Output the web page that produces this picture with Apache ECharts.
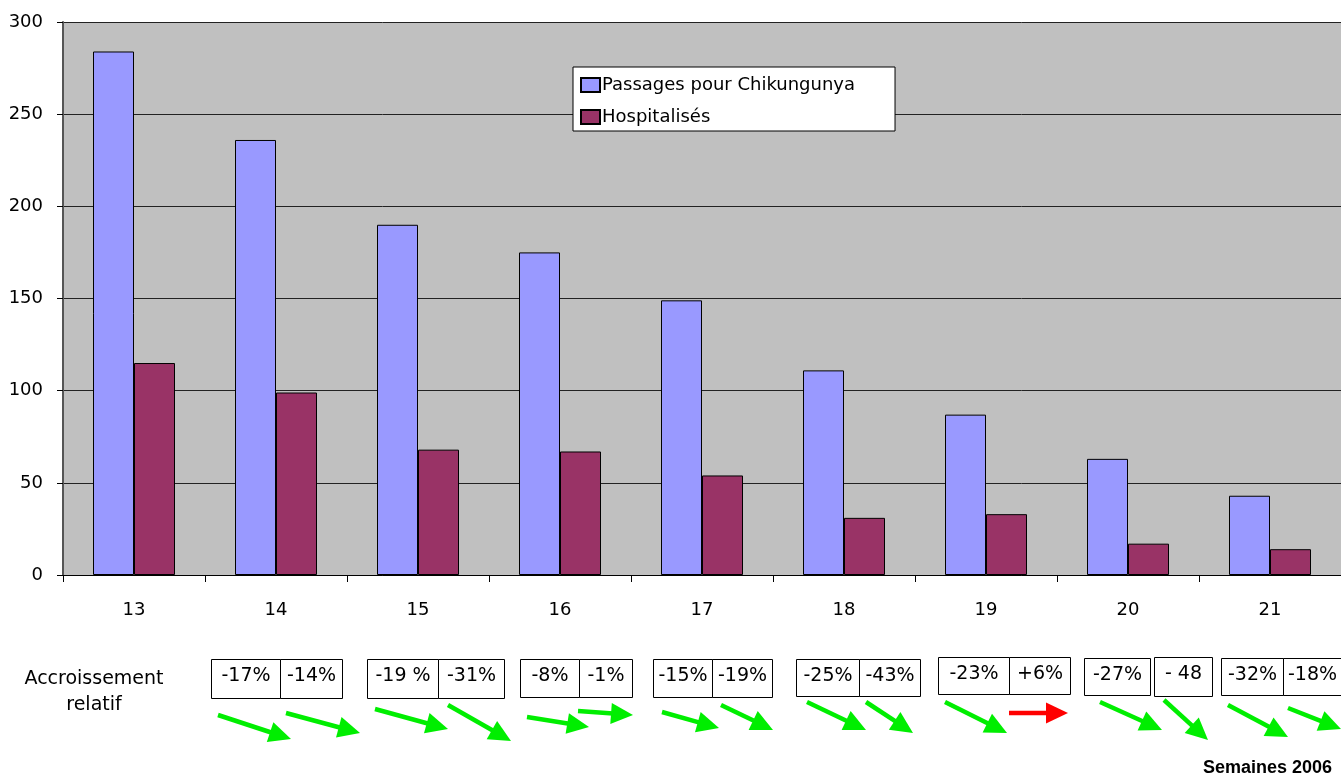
<!DOCTYPE html>
<html>
<head>
<meta charset="utf-8">
<script src="https://cdn.jsdelivr.net/npm/echarts@6/dist/echarts.min.js"></script>
<style>
html,body{margin:0;padding:0;background:#fff;}
#chart{width:1341px;height:776px;}
</style>
</head>
<body>
<div id="chart"></div>
<script>
// ---- data ----
const weeks = ['13', '14', '15', '16', '17', '18', '19', '20', '21'];
const passages = [284, 236, 190, 175, 149, 111, 87, 63, 43];
const hospitalises = [115, 99, 68, 67, 54, 31, 33, 17, 14];
const seriesNames = ['Passages pour Chikungunya', 'Hospitalisés'];
// relative change vs previous week (weeks 14..21)
const changeWeeks = ['14', '15', '16', '17', '18', '19', '20', '21'];
const changePassages = ['-17%', '-19 %', '-8%', '-15%', '-25%', '-23%', '-27%', '-32%'];
const changeHosp = ['-14%', '-31%', '-1%', '-19%', '-43%', '+6%', '- 48', '-18%'];
const yTickStep = 50;

// ---- layout of annotation boxes/arrows (offsets from column centre, px) ----
const boxLayout = [
  [[-65, 4, 659, 698], [4, 66, 659, 698]],
  [[-51, 20, 659, 698], [20, 86, 659, 698]],
  [[-40, 19, 659, 697], [19, 72, 659, 697]],
  [[-49, 10, 659, 697], [10, 70, 659, 697]],
  [[-48, 15, 659, 696], [15, 76, 659, 696]],
  [[-48, 23, 657, 694], [23, 84, 657, 694]],
  [[-44, 22, 658, 695], [26, 84, 657, 696]],
  [[-49, 13, 658, 695], [13, 71, 658, 695]]
];
const arrowLayout = [
  [[-58, 715, 15, 739], [10, 713, 84, 733]],
  [[-43, 709, 30, 729], [30, 705, 93, 741]],
  [[-33, 717, 29, 727], [18, 711, 73, 715]],
  [[-40, 712, 17, 728], [19, 705, 71, 730]],
  [[-37, 702, 22, 730], [22, 702, 69, 733]],
  [[-41, 702, 21, 733], [23, 713, 82, 713]],
  [[-28, 702, 34, 730], [36, 700, 80, 740]],
  [[-42, 705, 18, 737], [18, 708, 71, 729]]
];

const FONT = 'DejaVu Sans';
const chart = echarts.init(document.getElementById('chart'), null, {renderer: 'canvas'});

const option = {
  animation: false,
  backgroundColor: '#ffffff',
  grid: {
    left: 63, top: 22, right: 0, bottom: 201,
    show: true, backgroundColor: '#c0c0c0', borderWidth: 0, containLabel: false
  },
  legend: {
    orient: 'vertical',
    left: 573, top: 67,
    padding: [9, 40, 5, 7],
    itemWidth: 19, itemHeight: 14, itemGap: 14,
    backgroundColor: '#ffffff', borderColor: '#000000', borderWidth: 1,
    icon: 'rect',
    textStyle: {fontFamily: FONT, fontSize: 18, color: '#000', padding: [0, 0, 0, -3]},
    data: seriesNames
  },
  xAxis: {
    type: 'category',
    data: weeks,
    boundaryGap: true,
    axisLine: {show: true, lineStyle: {color: '#000', width: 1}},
    axisTick: {show: true, length: 7, lineStyle: {color: '#000'}},
    axisLabel: {fontFamily: FONT, fontSize: 18, color: '#000', margin: 26},
    splitLine: {show: false}
  },
  yAxis: {
    type: 'value',
    min: 0, max: 300, interval: yTickStep,
    axisLine: {show: true, lineStyle: {color: '#555', width: 2}},
    axisTick: {show: true, length: 6, lineStyle: {color: '#000'}},
    axisLabel: {fontFamily: FONT, fontSize: 18, color: '#000', margin: 20},
    splitLine: {show: true, lineStyle: {color: '#222', width: 1}}
  },
  series: [
    {
      name: seriesNames[0], type: 'bar', data: passages,
      barWidth: 41, barGap: '0%',
      itemStyle: {color: '#9999ff', borderColor: '#000', borderWidth: 1}
    },
    {
      name: seriesNames[1], type: 'bar', data: hospitalises,
      barWidth: 41, barGap: '0%',
      itemStyle: {color: '#993366', borderColor: '#000', borderWidth: 1}
    }
  ]
};
chart.setOption(option);

// ---- annotations ----
function arrow(x1, y1, x2, y2, color) {
  const dx = x2 - x1, dy = y2 - y1;
  const len = Math.sqrt(dx * dx + dy * dy);
  const ux = dx / len, uy = dy / len;
  const px = -uy, py = ux;
  const hl = 22, hw = 10.5;
  const bx = x2 - ux * hl, by = y2 - uy * hl;
  return [
    {type: 'line', silent: true,
     shape: {x1: x1, y1: y1, x2: bx + ux * 2, y2: by + uy * 2},
     style: {stroke: color, lineWidth: 4.5}},
    {type: 'polygon', silent: true,
     shape: {points: [[x2, y2], [bx + px * hw, by + py * hw], [bx - px * hw, by - py * hw]]},
     style: {fill: color}}
  ];
}

const graphics = [];
changeWeeks.forEach(function (wk, i) {
  const c = chart.convertToPixel({xAxisIndex: 0}, wk);
  const labels = [changePassages[i], changeHosp[i]];
  boxLayout[i].forEach(function (b, j) {
    const l = Math.round(c + b[0]) + 0.5, r = Math.round(c + b[1]) + 0.5;
    graphics.push({
      type: 'rect', silent: true,
      shape: {x: l, y: b[2] + 0.5, width: r - l, height: b[3] - b[2]},
      style: {fill: '#fff', stroke: '#000', lineWidth: 1}
    });
    graphics.push({
      type: 'text', silent: true,
      style: {text: labels[j], x: (l + r) / 2, y: b[2] + 17,
              textAlign: 'center', textVerticalAlign: 'middle',
              font: '19px "' + FONT + '"', fill: '#000'}
    });
  });
  arrowLayout[i].forEach(function (a, j) {
    const color = labels[j].trim().charAt(0) === '+' ? '#ff0000' : '#00ee00';
    arrow(c + a[0], a[1], c + a[2], a[3], color).forEach(function (g) { graphics.push(g); });
  });
});
graphics.push({
  type: 'text', silent: true,
  style: {text: 'Accroissement\nrelatif', x: 94, y: 692, textAlign: 'center', textVerticalAlign: 'middle',
          font: '19px "' + FONT + '"', lineHeight: 26, fill: '#000'}
});
graphics.push({
  type: 'text', silent: true,
  style: {text: 'Semaines 2006', x: 1332, y: 768, textAlign: 'right', textVerticalAlign: 'middle',
          font: 'bold 18px "Liberation Sans"', fill: '#000'}
});
chart.setOption({graphic: graphics});
</script>
</body>
</html>
